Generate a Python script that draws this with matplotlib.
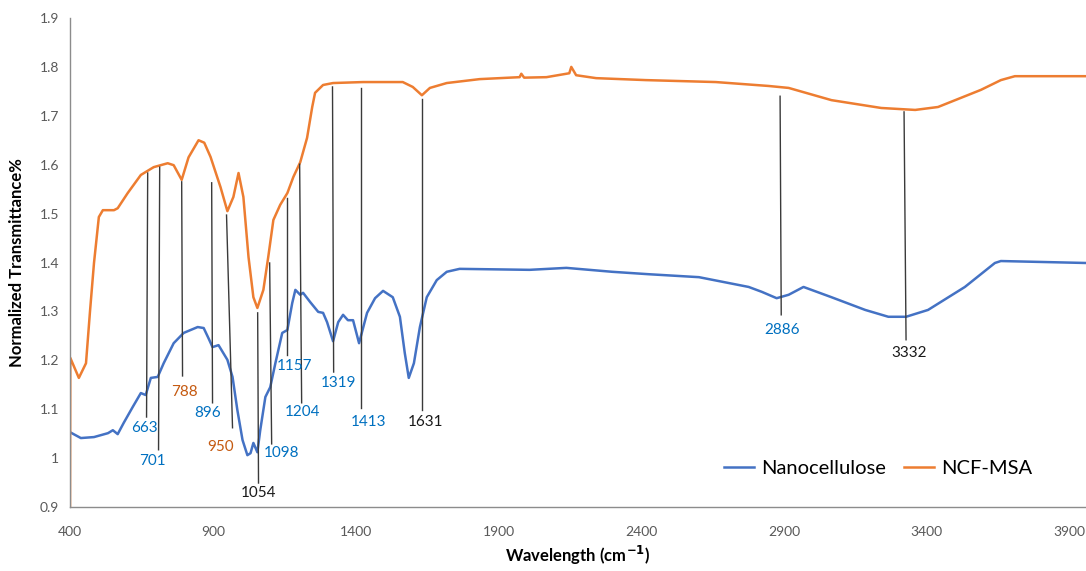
import matplotlib
matplotlib.use("Agg")
import matplotlib.pyplot as plt

plt.rcParams['font.family'] = ['Lato', 'DejaVu Sans']

# NCF-MSA spectrum (wavenumber, normalized transmittance)
wn_ncf = [400, 401, 431, 456, 470, 484, 501, 515, 554, 567, 602, 648, 693, 742, 763,
          791, 815, 850, 870, 892, 927, 951, 972, 990, 1007, 1025, 1042, 1056, 1077,
          1094, 1112, 1136, 1161, 1182, 1206, 1230, 1248, 1258, 1286, 1321, 1426, 1565,
          1600, 1632, 1660, 1719, 1834, 1974, 1980, 1990, 2068, 2148, 2155, 2172, 2242,
          2416, 2661, 2846, 2916, 3066, 3240, 3359, 3439, 3589, 3659, 3708, 3957]
tr_ncf = [0.90, 1.205, 1.164, 1.194, 1.30, 1.399, 1.493, 1.507, 1.507, 1.511, 1.542,
          1.579, 1.595, 1.603, 1.599, 1.569, 1.615, 1.650, 1.645, 1.616, 1.554, 1.505,
          1.534, 1.583, 1.534, 1.411, 1.329, 1.307, 1.344, 1.411, 1.487, 1.518, 1.542,
          1.575, 1.605, 1.655, 1.718, 1.747, 1.763, 1.767, 1.769, 1.769, 1.759, 1.742,
          1.757, 1.767, 1.775, 1.779, 1.786, 1.778, 1.779, 1.787, 1.800, 1.783, 1.777,
          1.773, 1.769, 1.761, 1.757, 1.732, 1.716, 1.712, 1.718, 1.753, 1.773, 1.781,
          1.781]

# Nanocellulose spectrum
wn_nc = [400, 438, 484, 533, 550, 567, 588, 620, 648, 665, 683, 707, 728, 763, 798,
         847, 868, 885, 899, 920, 951, 969, 986, 1004, 1021, 1032, 1042, 1056, 1066,
         1084, 1101, 1119, 1143, 1161, 1178, 1189, 1206, 1216, 1241, 1269, 1286, 1300,
         1321, 1339, 1356, 1373, 1391, 1412, 1440, 1468, 1496, 1530, 1555, 1572, 1586,
         1604, 1625, 1649, 1684, 1719, 1764, 2009, 2138, 2298, 2427, 2602, 2776, 2822,
         2874, 2916, 2968, 3066, 3184, 3265, 3327, 3404, 3533, 3638, 3659, 3957]
tr_nc = [1.053, 1.041, 1.043, 1.051, 1.057, 1.049, 1.072, 1.105, 1.133, 1.129, 1.164,
         1.166, 1.194, 1.235, 1.256, 1.268, 1.266, 1.245, 1.227, 1.231, 1.201, 1.166,
         1.098, 1.037, 1.006, 1.010, 1.031, 1.012, 1.057, 1.125, 1.145, 1.194, 1.256,
         1.262, 1.317, 1.344, 1.334, 1.338, 1.319, 1.299, 1.297, 1.278, 1.239, 1.278,
         1.293, 1.282, 1.282, 1.235, 1.297, 1.327, 1.342, 1.329, 1.289, 1.215, 1.164,
         1.194, 1.268, 1.329, 1.364, 1.381, 1.387, 1.385, 1.389, 1.381, 1.376, 1.370,
         1.350, 1.340, 1.327, 1.334, 1.350, 1.329, 1.303, 1.289, 1.289, 1.303, 1.350,
         1.399, 1.403, 1.399]

# peak labels and their colour group
peak_labels = ['663', '701', '788', '896', '950', '1054', '1098', '1157', '1204',
               '1319', '1413', '1631', '2886', '3332']
peak_group = ['nc', 'nc', 'ncf', 'nc', 'ncf', 'both', 'nc', 'nc', 'nc',
              'nc', 'nc', 'both', 'nc', 'both']

# annotation layout: line (x0, y0) -> (x1, y1), label at (lx, ly)
ann_lines = [(672, 1.583, 668, 1.084), (714, 1.595, 710, 1.017), (791, 1.565, 794, 1.168),
             (896, 1.563, 899, 1.113), (948, 1.497, 969, 1.062), (1057, 1.297, 1060, 0.949),
             (1099, 1.399, 1106, 1.029), (1158, 1.532, 1158, 1.211), (1204, 1.601, 1211, 1.113),
             (1319, 1.759, 1323, 1.176), (1420, 1.757, 1420, 1.102), (1634, 1.734, 1634, 1.098),
             (2886, 1.740, 2890, 1.293), (3320, 1.708, 3327, 1.242)]
ann_text = [(661, 1.062), (689, 0.994), (801, 1.135), (882, 1.092), (927, 1.023),
            (1060, 0.929), (1141, 1.010), (1186, 1.188), (1214, 1.094), (1340, 1.154),
            (1445, 1.074), (1644, 1.074), (2893, 1.262), (3338, 1.215)]
text_colors = {'nc': '#0070C0', 'ncf': '#C55A11', 'both': '#1a1a1a'}

fig = plt.figure(figsize=(10.86, 5.71), dpi=100)
ax = fig.add_axes([70 / 1086, 1 - 507 / 571, 1 - 70 / 1086, 489 / 571])

ax.plot(wn_nc, tr_nc, color='#4472C4', lw=1.8, label='Nanocellulose')
ax.plot(wn_ncf, tr_ncf, color='#ED7D31', lw=1.8, label='NCF-MSA')

for (x0, y0, x1, y1), (lx, ly), lab, grp in zip(ann_lines, ann_text, peak_labels, peak_group):
    ax.plot([x0, x1], [y0, y1], color='#3a3a3a', lw=1.0)
    ax.text(lx, ly, lab, color=text_colors[grp], fontsize=11, ha='center', va='center')

ax.set_xlim(400, 3957)
ax.set_ylim(0.9, 1.9)
ax.set_xticks(range(400, 4000, 500))
yt = [0.9, 1.0, 1.1, 1.2, 1.3, 1.4, 1.5, 1.6, 1.7, 1.8, 1.9]
ax.set_yticks(yt)
ax.set_yticklabels(['0.9', '1', '1.1', '1.2', '1.3', '1.4', '1.5', '1.6', '1.7', '1.8', '1.9'])
ax.tick_params(length=0, labelsize=10, colors='#595959', pad=8)
ax.tick_params(axis='x', pad=14)
for s in ['top', 'right']:
    ax.spines[s].set_visible(False)
for s in ['left', 'bottom']:
    ax.spines[s].set_color('#8c8c8c')
    ax.spines[s].set_linewidth(1.0)

ax.set_xlabel('Wavelength (cm$^{\\mathbf{-1}}$)', fontsize=12, fontweight='bold', labelpad=4)
ax.set_ylabel('Normalized Transmittance%', fontsize=12, fontweight='bold', labelpad=10)

ax.legend(loc='lower right', bbox_to_anchor=(0.965, 0.025), ncol=2, frameon=False,
          fontsize=14.5, handlelength=1.5, columnspacing=0.9, handletextpad=0.35)

fig.savefig('out.png', dpi=100)
